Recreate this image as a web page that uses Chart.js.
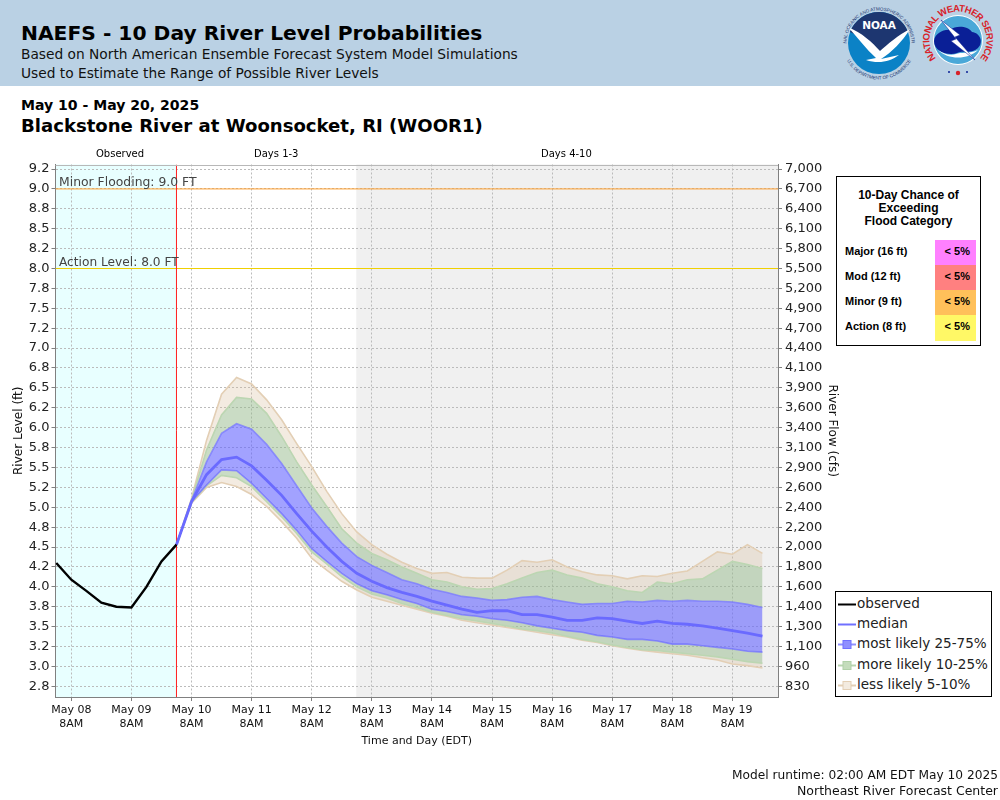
<!DOCTYPE html>
<html><head><meta charset="utf-8">
<script src="https://cdn.jsdelivr.net/npm/chart.js@4"></script>
<style>
html,body{margin:0;padding:0;background:#fff;width:1000px;height:800px;overflow:hidden;font-family:"DejaVu Sans",sans-serif;}
#wrap{position:relative;width:1000px;height:800px;}
canvas{position:absolute;left:0;top:0;}
.t{position:absolute;white-space:nowrap;color:#000;line-height:1;}
#hdr{position:absolute;left:0;top:0;width:1000px;height:86px;background:#bad1e4;}
#tbl{position:absolute;left:836px;top:176px;width:143px;height:168px;border:1px solid #000;background:#fff;font-family:"Liberation Sans",sans-serif;font-weight:bold;color:#000;}
#tbl .h{position:absolute;left:0;top:12px;width:100%;text-align:center;font-size:12px;line-height:13px;}
#tbl .r{position:absolute;left:8px;font-size:11px;line-height:23px;height:25px;}
#tbl .c{position:absolute;left:98px;width:41px;height:25px;line-height:23px;font-size:11px;text-align:right;box-sizing:border-box;padding-right:6px;}
#leg{position:absolute;left:835px;top:591px;width:155px;height:104px;border:1px solid #000;background:#fff;}
#leg .row{position:absolute;left:0;height:20px;width:155px;}
#leg svg{position:absolute;left:2px;top:2px;}
#leg span{position:absolute;left:21px;top:2px;font-size:13.55px;line-height:16px;color:#222;white-space:nowrap;}
</style></head><body>
<div id="wrap">
<div id="hdr"></div>
<div class="t" style="left:21px;top:23px;font-size:20.25px;font-weight:bold;">NAEFS - 10 Day River Level Probabilities</div>
<div class="t" style="left:21px;top:48px;font-size:13.75px;color:#111;">Based on North American Ensemble Forecast System Model Simulations</div>
<div class="t" style="left:21px;top:67px;font-size:13.75px;color:#111;">Used to Estimate the Range of Possible River Levels</div>
<svg style="position:absolute;left:838px;top:0" width="162" height="86" viewBox="838 0 162 86">
<defs>
<path id="noaaTop" d="M 846.5 43 A 32.5 32.5 0 0 1 911.5 43"/>
<path id="noaaBot" d="M 842.5 43 A 36.5 36.5 0 0 0 915.5 43"/>
<path id="nwsRing" d="M 936.2 58.3 A 28.5 28.5 0 1 1 979.8 58.3"/>
</defs>
<circle cx="879" cy="43" r="31" fill="#0b82c6"/>
<path d="M 850 32 A 31 31 0 0 1 908 32 C 895 38 888 47 879 53 C 870 45 862 37 850 32 Z" fill="#1d3670"/>
<path d="M 848 27 C 862 33 872 42 880 51 C 888 44 898 35 910 29 C 902 42 892 52 881 59 L 899 55 C 890 62 878 64 866 60 L 876 58 C 866 49 858 38 848 27 Z" fill="#fff"/>
<text x="879" y="29" text-anchor="middle" font-family="DejaVu Sans" font-weight="bold" font-size="10.5" fill="#fff">NOAA</text>
<text font-family="Liberation Sans" font-size="4.6" fill="#1d3670"><textPath href="#noaaTop" startOffset="50%" text-anchor="middle">NATIONAL OCEANIC AND ATMOSPHERIC ADMINISTRATION</textPath></text>
<text font-family="Liberation Sans" font-size="4.6" fill="#1d3670"><textPath href="#noaaBot" startOffset="50%" text-anchor="middle">U.S. DEPARTMENT OF COMMERCE</textPath></text>
<circle cx="958" cy="40" r="25" fill="#fff"/>
<circle cx="958" cy="40" r="24" fill="#4aa8d8"/>
<path d="M 934 41 C 935 33 944 29 950 30 C 956 25 968 26 972 32 C 980 33 984 42 978 48 C 972 54 962 50 957 53 C 949 56 934 52 934 41 Z" fill="#0a1f96"/>
<path d="M 938 50 C 948 60 968 60 978 50 C 970 54 960 52 956 54 C 950 56 944 54 938 50 Z" fill="#fff"/>
<path d="M 941 20 L 960 35 L 955 37 L 975 60 L 951 41 L 956 39 Z" fill="#fff" stroke="#0a1f96" stroke-width=".5"/>
<text font-family="Liberation Sans" font-weight="bold" font-size="9.5" fill="#d8232a"><textPath href="#nwsRing" textLength="129" lengthAdjust="spacing">NATIONAL WEATHER SERVICE</textPath></text>
<circle cx="958" cy="73" r="2.2" fill="#d8232a"/><circle cx="949" cy="72" r="1" fill="#0a1f96"/><circle cx="967" cy="72" r="1" fill="#0a1f96"/>
</svg>
<div class="t" style="left:21px;top:98px;font-size:14.05px;font-weight:bold;">May 10 - May 20, 2025</div>
<div class="t" style="left:21px;top:117px;font-size:18.08px;font-weight:bold;">Blackstone River at Woonsocket, RI (WOOR1)</div>
<canvas id="c" width="1000" height="800"></canvas>
<div class="t" style="left:96px;top:149px;font-size:10px;">Observed</div>
<div class="t" style="left:254px;top:149px;font-size:10px;">Days 1-3</div>
<div class="t" style="left:541px;top:149px;font-size:10px;">Days 4-10</div>
<div id="tbl">
<div class="h">10-Day Chance of<br>Exceeding<br>Flood Category</div>
<div class="r" style="top:63px">Major (16 ft)</div><div class="c" style="top:63px;background:#ff80ff">&lt; 5%</div>
<div class="r" style="top:88px">Mod (12 ft)</div><div class="c" style="top:88px;background:#ff8080">&lt; 5%</div>
<div class="r" style="top:113px">Minor (9 ft)</div><div class="c" style="top:113px;background:#ffc05a">&lt; 5%</div>
<div class="r" style="top:138px">Action (8 ft)</div><div class="c" style="top:138px;height:26px;background:#fff866">&lt; 5%</div>
</div>
<div id="leg">
<div class="row" style="top:1px"><svg width="18" height="20"><line x1="0" x2="18" y1="9.5" y2="9.5" stroke="#000" stroke-width="2"/></svg><span>observed</span></div>
<div class="row" style="top:21px"><svg width="18" height="20"><line x1="0" x2="18" y1="9.5" y2="9.5" stroke="#7070ff" stroke-width="2"/></svg><span>median</span></div>
<div class="row" style="top:41px"><svg width="18" height="20"><line x1="0" x2="18" y1="9.5" y2="9.5" stroke="#9090ff" stroke-width="2"/><rect x="5" y="5.5" width="8" height="8" fill="#9090ff" stroke="#7070ff"/></svg><span>most likely 25-75%</span></div>
<div class="row" style="top:62px"><svg width="18" height="20"><line x1="0" x2="18" y1="9.5" y2="9.5" stroke="#b8d4b0" stroke-width="2"/><rect x="5" y="5.5" width="8" height="8" fill="#c4dcbc" stroke="#b0d0a8"/></svg><span>more likely 10-25%</span></div>
<div class="row" style="top:82px"><svg width="18" height="20"><line x1="0" x2="18" y1="9.5" y2="9.5" stroke="#e3cfb5" stroke-width="2"/><rect x="5" y="5.5" width="8" height="8" fill="#f3ebe0" stroke="#e3cfb5"/></svg><span>less likely 5-10%</span></div>
</div>
<div class="t" style="right:2px;top:769px;font-size:12.2px;color:#111;">Model runtime: 02:00 AM EDT May 10 2025</div>
<div class="t" style="right:2px;top:785px;font-size:12.5px;color:#111;">Northeast River Forecast Center</div>
</div>
<script>
const observedHours = [-6,0,6,12,18,24,30,36,42];
const observedStage = [4.30,4.09,3.95,3.80,3.75,3.74,4.00,4.32,4.53];
const forecastHours = [42,48,54,60,66,72,78,84,90,96,102,108,114,120,126,132,138,144,150,156,162,168,174,180,186,192,198,204,210,216,222,228,234,240,246,252,258,264,270,276];
const q95 = [4.53,5.11,5.84,6.42,6.63,6.55,6.35,6.10,5.80,5.51,5.20,4.92,4.69,4.53,4.41,4.31,4.23,4.17,4.18,4.12,4.11,4.11,4.21,4.33,4.31,4.34,4.25,4.19,4.15,4.14,4.10,4.14,4.13,4.17,4.20,4.32,4.44,4.41,4.53,4.42];
const q90 = [4.53,5.09,5.72,6.16,6.38,6.36,6.18,5.89,5.57,5.28,5.01,4.73,4.55,4.42,4.34,4.25,4.17,4.09,4.06,4.00,3.97,3.98,4.04,4.11,4.18,4.21,4.15,4.11,4.04,4.00,3.95,3.93,4.06,4.04,4.09,4.10,4.21,4.32,4.28,4.23];
const q75 = [4.53,5.08,5.57,5.93,6.05,5.98,5.79,5.55,5.27,4.99,4.76,4.55,4.38,4.27,4.18,4.09,4.04,3.97,3.93,3.88,3.86,3.83,3.84,3.87,3.88,3.84,3.81,3.78,3.79,3.79,3.82,3.81,3.83,3.82,3.83,3.82,3.82,3.81,3.78,3.74];
const medianStage = [4.53,5.07,5.41,5.60,5.63,5.52,5.34,5.15,4.92,4.70,4.50,4.32,4.17,4.07,3.99,3.93,3.88,3.82,3.77,3.72,3.68,3.70,3.70,3.65,3.65,3.62,3.58,3.58,3.61,3.60,3.57,3.54,3.57,3.54,3.53,3.51,3.48,3.45,3.42,3.38];
const q25 = [4.53,5.07,5.28,5.47,5.46,5.30,5.11,4.92,4.71,4.48,4.32,4.17,4.04,3.95,3.90,3.84,3.79,3.72,3.69,3.65,3.63,3.60,3.58,3.55,3.51,3.48,3.45,3.43,3.39,3.37,3.34,3.34,3.32,3.28,3.28,3.26,3.24,3.22,3.19,3.18];
const q10 = [4.53,5.06,5.27,5.40,5.37,5.26,5.07,4.88,4.67,4.44,4.29,4.13,4.00,3.91,3.86,3.79,3.74,3.68,3.64,3.60,3.57,3.54,3.51,3.47,3.45,3.42,3.38,3.34,3.31,3.27,3.24,3.21,3.20,3.18,3.16,3.14,3.12,3.09,3.06,3.04];
const q05 = [4.53,5.05,5.25,5.31,5.26,5.16,5.01,4.82,4.61,4.36,4.21,4.07,3.96,3.87,3.82,3.77,3.72,3.67,3.63,3.58,3.55,3.52,3.49,3.46,3.43,3.40,3.37,3.33,3.30,3.26,3.23,3.20,3.18,3.16,3.14,3.11,3.08,3.03,3.01,2.98];
const stageTicks = [2.75,3,3.25,3.5,3.75,4,4.25,4.5,4.75,5,5.25,5.5,5.75,6,6.25,6.5,6.75,7,7.25,7.5,7.75,8,8.25,8.5,8.75,9,9.25];
const stageLabels = ["2.8","3.0","3.2","3.5","3.8","4.0","4.2","4.5","4.8","5.0","5.2","5.5","5.8","6.0","6.2","6.5","6.8","7.0","7.2","7.5","7.8","8.0","8.2","8.5","8.8","9.0","9.2"];
const flowLabels = ["830","960","1,100","1,300","1,400","1,600","1,800","2,000","2,200","2,400","2,600","2,900","3,100","3,400","3,600","3,900","4,100","4,400","4,700","4,900","5,200","5,500","5,800","6,100","6,400","6,700","7,000"];
const dayTicks = [0,24,48,72,96,120,144,168,192,216,240,264];
const dayLabels = ["May 08","May 09","May 10","May 11","May 12","May 13","May 14","May 15","May 16","May 17","May 18","May 19"];
const hourLabel = "8AM";
const xMin = -6.31, xMax = 282.2, yMin = 2.616, yMax = 9.307;
const nowHour = 42, days4Hour = 113.8;
const minorStage = 9.0, actionStage = 8.0;

const pts = (xs, ys) => xs.map((x, i) => ({x, y: ys[i]}));
const TAN = 'rgba(215,190,155,0.3)', GREEN = 'rgba(150,185,140,0.5)', BLUE = 'rgba(100,100,255,0.6)';
const band = (label, ys, color, fill) => ({label, data: pts(forecastHours, ys), borderColor: color, borderWidth: 1.6, pointRadius: 0, tension: 0, backgroundColor: fill ? fill.bg : undefined, fill: fill ? {target: fill.to} : false});

const regions = {
  id: 'regions',
  beforeDraw(ch) {
    const {ctx, chartArea: a, scales: {x}} = ch;
    ctx.save();
    ctx.fillStyle = '#e8ffff';
    ctx.fillRect(a.left, a.top, x.getPixelForValue(nowHour) - a.left, a.height);
    ctx.fillStyle = '#f0f0f0';
    const g = x.getPixelForValue(days4Hour);
    ctx.fillRect(g, a.top, a.right - g, a.height);
    ctx.restore();
  },
  afterDraw(ch) {
    const {ctx, chartArea: a, scales: {y}} = ch;
    ctx.save();
    ctx.strokeStyle = '#b8b8b8'; ctx.lineWidth = 1;
    ctx.beginPath(); ctx.moveTo(a.left, Math.round(a.top) + .5); ctx.lineTo(a.right, Math.round(a.top) + .5); ctx.stroke();
    ctx.fillStyle = '#444'; ctx.font = '12.4px "DejaVu Sans"'; ctx.textBaseline = 'alphabetic'; ctx.textAlign = 'left';
    ctx.fillText('Minor Flooding: 9.0 FT', a.left + 3.5, y.getPixelForValue(minorStage) - 2.5);
    ctx.font = '12.2px "DejaVu Sans"';
    ctx.fillText('Action Level: 8.0 FT', a.left + 3.5, y.getPixelForValue(actionStage) - 2.5);
    ctx.restore();
  }
};
const font = (size) => ({family: '"DejaVu Sans"', size});
new Chart(document.getElementById('c'), {
  type: 'line',
  plugins: [regions],
  data: {datasets: [
    {label: 'observed', data: pts(observedHours, observedStage), borderColor: '#000', borderWidth: 2.4, pointRadius: 0, tension: 0, fill: false},
    {label: 'median', data: pts(forecastHours, medianStage), borderColor: '#6a6aff', borderWidth: 2.8, pointRadius: 0, tension: 0, fill: false},
    {label: 'now', data: [{x: nowHour, y: yMin}, {x: nowHour, y: yMax}], borderColor: '#ff2020', borderWidth: 1, pointRadius: 0, fill: false},
    {label: 'minor', data: [{x: xMin, y: minorStage}, {x: xMax, y: minorStage}], borderColor: '#ffa030', borderWidth: 1, pointRadius: 0, fill: false},
    {label: 'action', data: [{x: xMin, y: actionStage}, {x: xMax, y: actionStage}], borderColor: '#f0d000', borderWidth: 1, pointRadius: 0, fill: false},
    band('q75', q75, 'rgba(120,120,255,0.75)', {to: 6, bg: BLUE}),
    band('q25', q25, 'rgba(120,120,255,0.75)', null),
    band('q90', q90, '#bcd6b2', {to: 5, bg: GREEN}),
    band('q10', q10, '#bcd6b2', {to: 6, bg: GREEN}),
    band('q95', q95, '#e3cfb5', {to: 7, bg: TAN}),
    band('q05', q05, '#e3cfb5', {to: 8, bg: TAN})
  ]},
  options: {
    responsive: false, animation: false, devicePixelRatio: 1,
    layout: {padding: {top: 164.5, left: 12, right: 161, bottom: 52}},
    plugins: {legend: {display: false}, tooltip: {enabled: false}, title: {display: false}},
    scales: {
      x: {
        type: 'linear', min: xMin, max: xMax,
        afterBuildTicks: s => { s.ticks = dayTicks.map(value => ({value})); },
        afterFit: s => { s.height = 51; },
        ticks: {autoSkip: false, maxRotation: 0, padding: 3, color: '#111', font: font(11),
          callback: (v) => [dayLabels[dayTicks.indexOf(v)], hourLabel]},
        grid: {color: '#bbbbbb', tickColor: '#808080', tickLength: 4, lineWidth: 1},
        border: {color: '#808080', dash: [2, 2], display: true},
        title: {display: true, text: 'Time and Day (EDT)', font: font(11), color: '#111', padding: 0}
      },
      y: {
        type: 'linear', position: 'left', min: yMin, max: yMax,
        afterBuildTicks: s => { s.ticks = stageTicks.map(value => ({value})); },
        afterFit: s => { s.width = 43.5; },
        ticks: {autoSkip: false, padding: 2, color: '#222', font: font(13),
          callback: (v) => stageLabels[stageTicks.indexOf(v)]},
        grid: {color: '#bbbbbb', tickColor: '#808080', tickLength: 4, lineWidth: 1},
        border: {color: '#808080', dash: [2, 2]},
        title: {display: true, text: 'River Level (ft)', font: font(12), color: '#111', padding: 0}
      },
      y2: {
        type: 'linear', position: 'right', min: yMin, max: yMax,
        afterBuildTicks: s => { s.ticks = stageTicks.map(value => ({value})); },
        afterFit: s => { s.width = 61; },
        ticks: {autoSkip: false, padding: 3, color: '#222', font: font(13),
          callback: (v) => flowLabels[stageTicks.indexOf(v)]},
        grid: {drawOnChartArea: false, tickColor: '#808080', tickLength: 4},
        border: {color: '#808080'},
        title: {display: true, text: 'River Flow (cfs)', font: font(12), color: '#111', padding: 0}
      }
    }
  }
});
</script>
</body></html>
